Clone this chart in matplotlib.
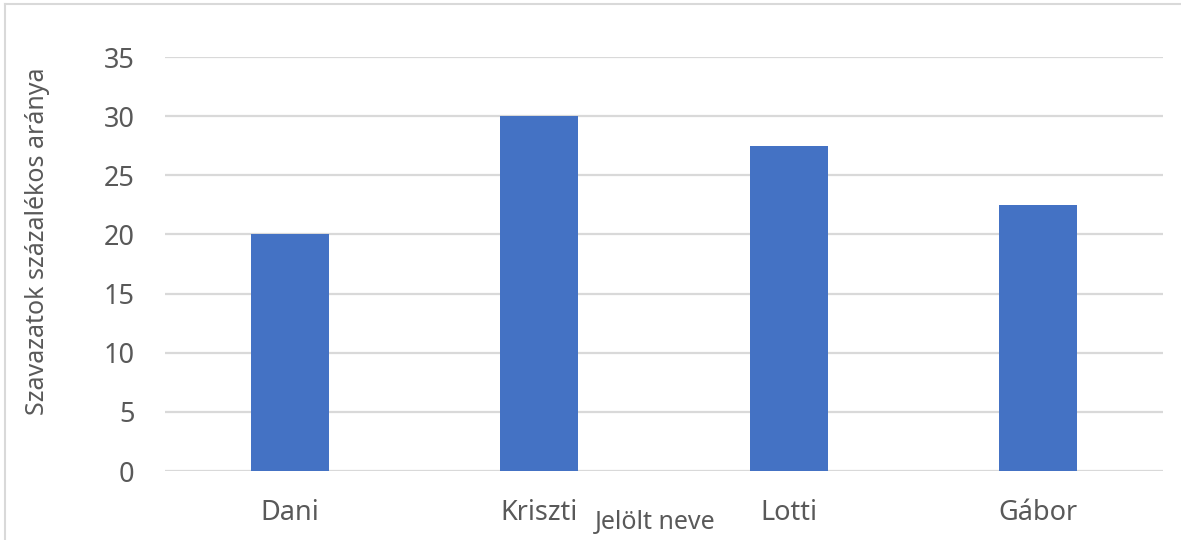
import matplotlib
matplotlib.use("Agg")
import matplotlib.pyplot as plt
from matplotlib.lines import Line2D

names = ["Dani", "Kriszti", "Lotti", "Gábor"]
shares = [20, 30, 27.5, 22.5]
y_ticks = [0, 5, 10, 15, 20, 25, 30, 35]

text_color = "#595959"
grid_color = "#d9d9d9"
bar_color = "#4472C4"

plt.rcParams["font.family"] = ["Noto Sans", "DejaVu Sans"]

fig = plt.figure(figsize=(11.81, 5.40), dpi=100)
ax = fig.add_axes([165 / 1181, 1 - 471 / 540, (1163 - 165) / 1181, (471 - 57) / 540])

ax.bar(range(len(names)), shares, width=0.312, color=bar_color, zorder=3)
ax.set_xlim(-0.5, len(names) - 0.5)
ax.set_ylim(0, 35)
ax.set_yticks(y_ticks)
ax.set_xticks(range(len(names)))
ax.set_xticklabels(names)
ax.grid(axis="y", color=grid_color, linewidth=1.6, zorder=0)
ax.tick_params(axis="both", length=0, labelsize=19.5, labelcolor=text_color)
ax.tick_params(axis="y", pad=22)
ax.tick_params(axis="x", pad=20)
for s in ax.spines.values():
    s.set_visible(False)

fig.text(655 / 1181, 1 - 522 / 540, "Jelölt neve", ha="center", va="center",
         fontsize=18, color=text_color)
fig.text(38 / 1181, 1 - 241 / 540, "Szavazatok százalékos aránya", ha="center",
         va="center", rotation=90, fontsize=18, color=text_color)

# outer chart border, only top and left edges visible
fig.add_artist(Line2D([5 / 1181, 1], [1 - 4 / 540, 1 - 4 / 540], color=grid_color,
                      linewidth=1.5, transform=fig.transFigure))
fig.add_artist(Line2D([5 / 1181, 5 / 1181], [0, 1 - 4 / 540], color=grid_color,
                      linewidth=1.5, transform=fig.transFigure))

fig.savefig("out.png", dpi=100)
